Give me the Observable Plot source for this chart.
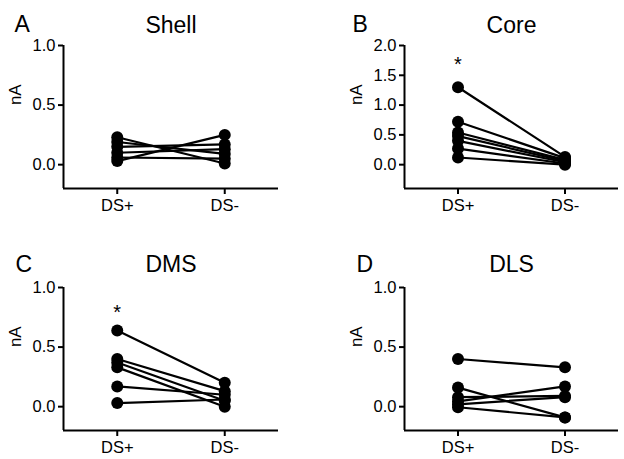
<!DOCTYPE html>
<html>
<head>
<meta charset="utf-8">
<script src="https://cdn.jsdelivr.net/npm/d3@7"></script>
<script src="https://cdn.jsdelivr.net/npm/@observablehq/plot@0.6"></script>
<style>
  html, body { margin: 0; padding: 0; background: #fff; }
  #wrap { position: relative; width: 624px; height: 459px; overflow: hidden; }
  .panel { position: absolute; }
</style>
</head>
<body>
<div id="wrap"></div>
<script>
// Categories
const conds = ["DS+", "DS-"];

// Panel A: Shell
const shellPlus  = [0.23, 0.19, 0.15, 0.10, 0.06, 0.03];
const shellMinus = [0.01, 0.09, 0.17, 0.13, 0.05, 0.25];
// Panel B: Core
const corePlus  = [1.30, 0.72, 0.54, 0.48, 0.40, 0.27, 0.12];
const coreMinus = [0.13, 0.11, 0.08, 0.06, 0.04, 0.02, 0.00];
// Panel C: DMS
const dmsPlus  = [0.64, 0.40, 0.37, 0.33, 0.17, 0.03];
const dmsMinus = [0.20, 0.13, 0.05, 0.00, 0.10, 0.06];
// Panel D: DLS
const dlsPlus  = [0.40, 0.16, 0.08, 0.045, 0.02, -0.005];
const dlsMinus = [0.33, -0.09, 0.09, 0.17, 0.08, -0.09];

// Tick labels
const ticksA = [0, 0.5, 1.0];
const ticksB = [0, 0.5, 1.0, 1.5, 2.0];

// Significance markers (value position of the asterisk)
const starCore = 1.68;
const starDms = 0.79;

const font = "'Liberation Sans', Arial, Helvetica, sans-serif";

function rows(plus, minus) {
  const out = [];
  plus.forEach((v, i) => {
    out.push({id: i, x: 0.5, value: v});
    out.push({id: i, x: 1.5, value: minus[i]});
  });
  return out;
}

function panel({letter, title, plus, minus, ticks, ymax, star, left, top, width, height, mTop, mBottom, mLeft, mRight, letterDx}) {
  const data = rows(plus, minus);
  const marks = [
    Plot.ruleX([0], {strokeWidth: 2}),
    Plot.ruleY([-0.2 * ymax], {strokeWidth: 2}),
    Plot.axisY({ticks: ticks, tickFormat: d3.format(".1f"), tickSize: 5, tickPadding: 3, strokeWidth: 2, fontSize: 16.5, label: null}),
    Plot.axisX({ticks: [0.5, 1.5], tickFormat: d => conds[Math.round(d - 0.5)], tickSize: 6, tickPadding: 5, strokeWidth: 2, fontSize: 16.5, label: null}),
    Plot.line(data, {x: "x", y: "value", z: "id", stroke: "#000", strokeWidth: 2.2}),
    Plot.dot(data, {x: "x", y: "value", r: 6, fill: "#000", stroke: null}),
    Plot.text([ymax / 2], {y: d => d, text: () => "nA", frameAnchor: "left", dx: -48, rotate: -90, fontSize: 17}),
    Plot.text([title], {frameAnchor: "top", dy: -(mTop - (top === 0 ? 16 : 25)), fontSize: 23}),
    Plot.text([letter], {frameAnchor: "top-left", dx: letterDx, dy: -(mTop - (top === 0 ? 15 : 25)), fontSize: 23})
  ];
  if (star != null) {
    marks.push(Plot.text([star], {x: () => 0.5, y: d => d, text: () => "*", fontSize: 20}));
  }
  const chart = Plot.plot({
    width, height,
    marginTop: mTop, marginBottom: mBottom, marginLeft: mLeft, marginRight: mRight,
    style: {fontFamily: font, fontSize: "16px", color: "#000", background: "transparent"},
    x: {domain: [0, 2], axis: null},
    y: {domain: [-0.2 * ymax, ymax], axis: null},
    marks
  });
  const div = document.createElement("div");
  div.className = "panel";
  div.style.left = left + "px";
  div.style.top = top + "px";
  div.appendChild(chart);
  document.getElementById("wrap").appendChild(div);
}

panel({letter: "A", title: "Shell", plus: shellPlus, minus: shellMinus, ticks: ticksA, ymax: 1, star: null,
  left: 0, top: 0, width: 312, height: 230, mTop: 45, mBottom: 42, mLeft: 63, mRight: 34, letterDx: -49});
panel({letter: "B", title: "Core", plus: corePlus, minus: coreMinus, ticks: ticksB, ymax: 2, star: starCore,
  left: 312, top: 0, width: 312, height: 230, mTop: 45, mBottom: 42, mLeft: 92, mRight: 6, letterDx: -52});
panel({letter: "C", title: "DMS", plus: dmsPlus, minus: dmsMinus, ticks: ticksA, ymax: 1, star: starDms,
  left: 0, top: 230, width: 312, height: 229, mTop: 57, mBottom: 29, mLeft: 63, mRight: 34, letterDx: -48});
panel({letter: "D", title: "DLS", plus: dlsPlus, minus: dlsMinus, ticks: ticksA, ymax: 1, star: null,
  left: 312, top: 230, width: 312, height: 229, mTop: 57, mBottom: 29, mLeft: 92, mRight: 6, letterDx: -48});
</script>
</body>
</html>
